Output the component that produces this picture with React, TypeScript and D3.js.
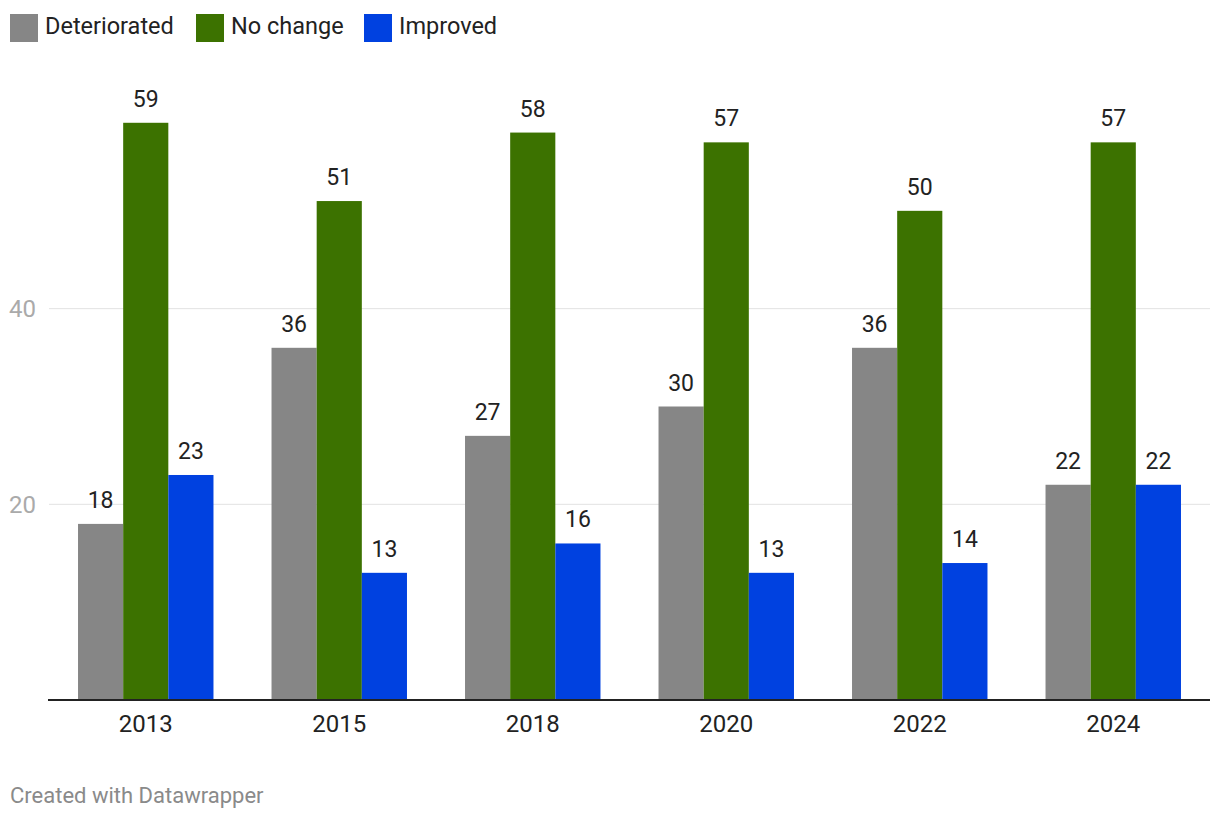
import React, { useEffect, useRef } from "react";
import * as d3 from "d3";

const years = ["2013", "2015", "2018", "2020", "2022", "2024"];
const seriesNames = ["Deteriorated", "No change", "Improved"];
const deteriorated = [18, 36, 27, 30, 36, 22];
const noChange = [59, 51, 58, 57, 50, 57];
const improved = [23, 13, 16, 13, 14, 22];
const yTicks = [20, 40];
const colors = ["#868686", "#3c7200", "#0041e0"];

const App = () => {
  const svgRef = useRef<SVGSVGElement | null>(null);

  useEffect(() => {
    const width = 1220;
    const height = 822;
    const font = "Roboto, 'Noto Sans', sans-serif";
    const values = [deteriorated, noChange, improved];

    const svg = d3.select(svgRef.current);
    svg.selectAll("*").remove();
    svg
      .attr("width", width)
      .attr("height", height)
      .attr("viewBox", [0, 0, width, height])
      .style("font-family", font);

    // scales
    const x0 = d3
      .scaleBand()
      .domain(years)
      .range([49, 1210])
      .paddingInner(0.3)
      .paddingOuter(0.15);
    const x1 = d3
      .scaleBand()
      .domain(seriesNames)
      .range([0, x0.bandwidth()]);
    const y = d3.scaleLinear().domain([0, 60]).range([700, 113]);

    // legend
    const legendX = [10, 196, 364];
    const legend = svg
      .append("g")
      .selectAll("g")
      .data(seriesNames)
      .join("g")
      .attr("transform", (_, i) => `translate(${legendX[i]},14)`);
    legend
      .append("rect")
      .attr("width", 28)
      .attr("height", 28)
      .attr("fill", (_, i) => colors[i]);
    legend
      .append("text")
      .attr("x", 35)
      .attr("y", 20)
      .attr("font-size", 23.5)
      .attr("fill", "#222")
      .text((d) => d);

    // grid
    const grid = svg.append("g");
    grid
      .selectAll("line")
      .data(yTicks)
      .join("line")
      .attr("x1", 49)
      .attr("x2", 1210)
      .attr("y1", (d) => y(d))
      .attr("y2", (d) => y(d))
      .attr("stroke", "#e2e2e2")
      .attr("stroke-width", 1);
    grid
      .selectAll("text")
      .data(yTicks)
      .join("text")
      .attr("x", 9)
      .attr("y", (d) => y(d) + 8.5)
      .attr("font-size", 24)
      .attr("fill", "#aaa")
      .text((d) => d);

    // bars
    const groups = svg
      .append("g")
      .selectAll("g")
      .data(years)
      .join("g")
      .attr("transform", (d) => `translate(${x0(d)},0)`);

    groups.each(function (year, yi) {
      const g = d3.select(this);
      const rows = seriesNames.map((s, si) => ({ s, si, v: values[si][yi] }));
      g.selectAll("rect")
        .data(rows)
        .join("rect")
        .attr("x", (d) => x1(d.s)!)
        .attr("width", x1.bandwidth())
        .attr("y", (d) => y(d.v))
        .attr("height", (d) => y(0) - y(d.v))
        .attr("fill", (d) => colors[d.si]);
      g.selectAll("text")
        .data(rows)
        .join("text")
        .attr("x", (d) => x1(d.s)! + x1.bandwidth() / 2)
        .attr("y", (d) => y(d.v) - 16)
        .attr("text-anchor", "middle")
        .attr("font-size", 23)
        .attr("fill", "#222")
        .text((d) => d.v);
    });

    // x axis
    svg
      .append("g")
      .attr("transform", `translate(0,${y(0)})`)
      .call(d3.axisBottom(x0).tickSize(0))
      .call((g) => g.select(".domain").attr("stroke", "#222").attr("stroke-width", 2).attr("d", "M48,0H1210"))
      .call((g) =>
        g
          .selectAll(".tick text")
          .attr("y", 32)
          .attr("dy", null)
          .attr("font-size", 24)
          .attr("font-family", font)
          .attr("fill", "#222")
      );

    // footer
    svg
      .append("text")
      .attr("x", 10)
      .attr("y", 803)
      .attr("font-size", 22)
      .attr("fill", "#8a8a8a")
      .text("Created with Datawrapper");
  }, []);

  return (
    <div style={{ position: "absolute", left: 0, top: 0 }}>
      <svg ref={svgRef}></svg>
    </div>
  );
};

export default App;
